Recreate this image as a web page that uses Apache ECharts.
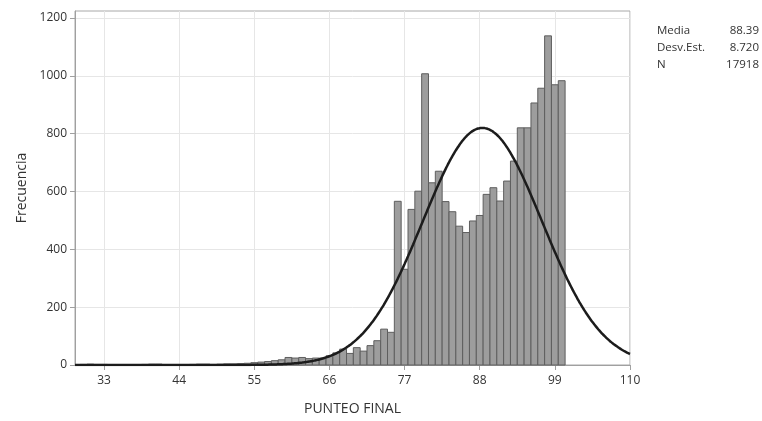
<!DOCTYPE html>
<html>
<head>
<meta charset="utf-8">
<script src="https://cdn.jsdelivr.net/npm/echarts@6/dist/echarts.min.js"></script>
<style>html,body{margin:0;padding:0;background:#fff}#c{width:762px;height:421px}</style>
</head>
<body>
<div id="c"></div>
<script>
// Histogram bins (centre of each 1-point bin) and counts
var binCenters = [30,31,32,33,34,35,36,37,38,39,40,41,42,43,44,45,46,47,48,49,50,51,52,53,54,55,56,57,58,59,60,61,62,63,64,65,66,67,68,69,70,71,72,73,74,75,76,77,78,79,80,81,82,83,84,85,86,87,88,89,90,91,92,93,94,95,96,97,98,99,100];
var counts =     [2,3,2,2,1,1,1,1,1,2,3,3,1,1,1,1,2,3,3,2,3,4,4,5,6,8,10,12,15,18,26,24,26,22,24,24,32,42,55,40,60,48,67,84,124,113,566,331,538,601,1007,630,670,565,530,480,458,498,517,590,613,567,636,705,820,820,906,957,1138,969,983];
var xTicks = [33,44,55,66,77,88,99,110];
var yTicks = [0,200,400,600,800,1000,1200];
// Summary statistics shown in the legend box
var media = 88.39, desvEst = 8.720, nTotal = 17918;
var statLabels = ['Media','Desv.Est.','N'];
var statValues = ['88.39','8.720','17918'];

var binData = binCenters.map(function(c,i){return [c, counts[i]];});
// fitted normal curve from the reported mean / sd / N (bin width 1)
var curve = [];
for (var x = 28.75; x <= 110.001; x += 0.25) {
  var z = (x - media) / desvEst;
  curve.push([x, nTotal / (desvEst * Math.sqrt(2*Math.PI)) * Math.exp(-0.5*z*z)]);
}

var chart = echarts.init(document.getElementById('c'));
var font = '"Open Sans", "Noto Sans", sans-serif';
var graphics = [];
statLabels.forEach(function(t,i){
  graphics.push({type:'text', left:657, top:25+i*17, style:{text:t, font:'11.5px '+font, fill:'#333'}});
  graphics.push({type:'text', right:3, top:25+i*17, style:{text:statValues[i], font:'11.5px '+font, fill:'#333', textAlign:'right'}});
});
chart.setOption({
  animation:false,
  backgroundColor:'#fff',
  grid:{left:75, right:132, top:11, bottom:55, show:true, borderColor:'#a8a8a8', borderWidth:1},
  xAxis:{type:'value', min:28.75, max:110,
    name:'PUNTEO FINAL', nameLocation:'middle', nameGap:37,
    nameTextStyle:{fontFamily:font, fontSize:14, color:'#333'},
    axisLine:{show:true, lineStyle:{color:'#a0a0a0'}},
    axisTick:{show:true, customValues:xTicks, length:5, lineStyle:{color:'#a0a0a0'}},
    axisLabel:{customValues:xTicks, fontFamily:font, fontSize:12, color:'#333', margin:10,
      formatter:function(v){return String(v);}},
    splitLine:{show:true, lineStyle:{color:'#e6e6e6'}}},
  yAxis:{type:'value', min:0, max:1224,
    name:'Frecuencia', nameLocation:'middle', nameGap:46,
    nameTextStyle:{fontFamily:font, fontSize:14, color:'#333'},
    axisLine:{show:true, lineStyle:{color:'#a0a0a0'}},
    axisTick:{show:true, customValues:yTicks, length:5, lineStyle:{color:'#a0a0a0'}},
    axisLabel:{customValues:yTicks, fontFamily:font, fontSize:12, color:'#333', margin:8,
      formatter:function(v){return String(v);}},
    splitLine:{show:true, lineStyle:{color:'#e6e6e6'}}},
  graphic:graphics,
  series:[
    {type:'custom', data:binData, z:2,
      renderItem:function(params, api){
        var c = api.value(0), v = api.value(1);
        var p0 = api.coord([c-0.5, v]);
        var p1 = api.coord([c+0.5, 0]);
        return {type:'rect', shape:{x:p0[0], y:p0[1], width:p1[0]-p0[0], height:p1[1]-p0[1]},
          style:{fill:'#9d9d9d', stroke:'#5e5e5e', lineWidth:1}};
      }},
    {type:'line', data:curve, showSymbol:false, symbol:'none', smooth:true, z:5,
      lineStyle:{color:'#1c1c1c', width:2.5}}
  ]
});
</script>
</body>
</html>
